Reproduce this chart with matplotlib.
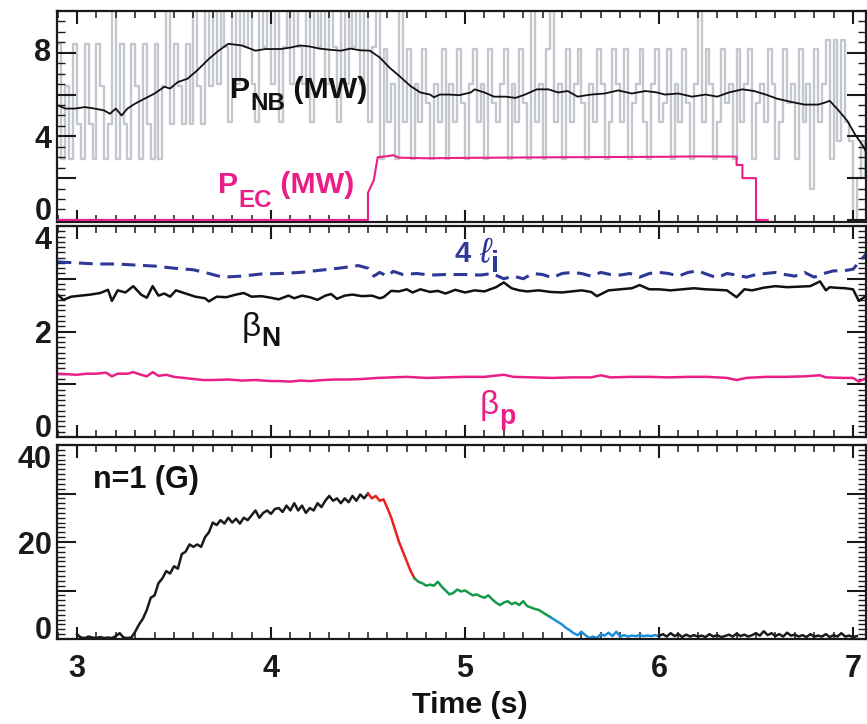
import numpy as np
import matplotlib
matplotlib.use("Agg")
import matplotlib.pyplot as plt
from matplotlib import font_manager
from matplotlib.ticker import MultipleLocator, FuncFormatter

# ---------------- data ----------------
# Raw neutral-beam power (MW), sampled every 0.02 s from 2.90 s to 7.06 s
pnb_raw = [
    # 2.90-3.44
    8.4, 2.9, 6.4, 2.9, 8.4, 4.6, 2.9, 8.4, 4.6, 2.9, 8.4, 6.4, 2.9, 4.6, 10.5, 2.9, 8.4, 4.6, 2.9, 8.4,
    6.4, 2.9, 8.4, 4.6, 2.9, 8.4, 2.9, 6.4,
    # 3.46-3.68
    10.5, 4.6, 8.4, 6.4, 4.6, 8.4, 4.6, 10.5, 6.4, 4.6, 10.5, 6.4,
    # 3.70-4.54
    10.5, 6.5, 10.5, 8.3, 4.7, 10.5, 6.5, 10.5, 8.3, 10.5,
    6.5, 4.7, 10.5, 8.3, 10.5, 6.5, 10.5, 4.7, 8.3, 10.5,
    6.5, 10.5, 8.3, 6.5, 10.5, 4.7, 10.5, 8.3, 10.5, 6.5,
    10.5, 8.3, 4.7, 10.5, 6.5, 10.5, 8.3, 10.5, 6.5, 10.5,
    4.7, 8.3, 10.5,
    # 4.56-6.84
    2.9, 8.2, 4.7, 6.5, 2.9, 10.5, 4.7, 8.2, 2.9, 6.5,
    4.7, 8.2, 5.6, 2.9, 6.5, 4.7, 8.2, 2.9, 6.5, 4.7,
    8.2, 5.6, 2.9, 6.5, 8.2, 4.7, 6.5, 2.9, 8.2, 5.6,
    4.7, 6.5, 8.2, 2.9, 6.5, 4.7, 8.2, 5.6, 2.9, 10.5,
    4.7, 6.5, 2.9, 8.2, 10.5, 4.7, 6.5, 2.9, 8.2, 4.7,
    6.5, 8.2, 5.6, 2.9, 6.5, 4.7, 8.2, 6.5, 2.9, 4.7,
    8.2, 6.5, 4.7, 8.2, 2.9, 5.6, 6.5, 8.2, 4.7, 2.9,
    6.5, 8.2, 4.7, 5.6, 8.2, 2.9, 6.5, 4.7, 8.2, 5.6,
    2.9, 6.5, 10.5, 4.7, 8.2, 6.5, 2.9, 4.7, 8.2, 5.6,
    6.5, 2.9, 8.2, 4.7, 6.5, 8.2, 2.9, 5.6, 6.5, 4.7,
    8.2, 6.5, 2.9, 4.7, 8.2, 5.6, 6.5, 2.9, 8.2, 4.7,
    6.5, 1.5, 8.2, 4.7, 6.5,
    # 6.86-7.06
    8.6, 2.9, 8.6, 3.8, 8.6, 4.7, 3.8, 0.0, 2.0, 3.8, 2.0,
]
pnb_raw_span = [2.90, 7.06]

# Smoothed neutral-beam power (MW)
pnb_t = [2.90, 2.94, 2.99, 3.04, 3.09, 3.14, 3.17, 3.20, 3.23, 3.26, 3.30, 3.35, 3.40, 3.45, 3.48, 3.52,
         3.57, 3.62, 3.68, 3.73, 3.78, 3.85, 3.92, 3.97, 4.05, 4.10, 4.15, 4.20, 4.25, 4.30, 4.36, 4.41,
         4.46, 4.51, 4.56, 4.61, 4.66, 4.72, 4.77, 4.82, 4.84, 4.87, 4.92, 4.97, 5.03, 5.05, 5.10, 5.15,
         5.21, 5.26, 5.31, 5.37, 5.43, 5.48, 5.53, 5.58, 5.65, 5.72, 5.79, 5.86, 5.93, 5.99, 6.03, 6.10,
         6.17, 6.24, 6.30, 6.36, 6.43, 6.49, 6.55, 6.61, 6.68, 6.75, 6.82, 6.85, 6.88, 6.92, 6.97, 7.01,
         7.05, 7.07]
pnb_v = [5.49, 5.33, 5.33, 5.40, 5.33, 5.24, 5.08, 5.33, 5.00, 5.33, 5.57, 5.81, 6.05, 6.37, 6.29, 6.60,
         6.76, 7.16, 7.71, 8.10, 8.43, 8.35, 8.10, 8.18, 8.18, 8.25, 8.35, 8.30, 8.20, 8.15, 8.10, 8.20,
         8.12, 8.10, 7.78, 7.30, 6.90, 6.40, 6.10, 6.00, 5.87, 6.00, 6.00, 5.97, 6.10, 6.25, 6.10, 5.90,
         5.90, 5.84, 6.00, 6.25, 6.25, 6.10, 6.17, 5.90, 6.00, 6.05, 6.20, 6.05, 6.17, 6.10, 6.00, 6.05,
         5.90, 6.00, 5.90, 6.10, 6.25, 6.17, 6.00, 5.80, 5.65, 5.52, 5.52, 5.60, 5.70, 5.30, 4.75, 4.10,
         3.57, 3.20]

# ECH power (MW)
pec_t = [2.90, 4.50, 4.50, 4.53, 4.55, 4.60, 4.63, 4.66, 4.80, 5.00, 5.50, 6.00, 6.20, 6.40, 6.40,
         6.43, 6.43, 6.50, 6.50, 6.56]
pec_v = [0.0, 0.0, 1.3, 1.9, 3.0, 3.05, 3.10, 2.98, 2.95, 2.97, 3.0, 3.02, 3.04, 3.03, 2.63,
         2.63, 2.0, 2.0, 0.0, 0.0]

# 4 * internal inductance
li4_t = [2.90, 3.00, 3.10, 3.20, 3.30, 3.40, 3.50, 3.60, 3.68, 3.75, 3.85, 3.95, 4.05, 4.15, 4.25, 4.35,
         4.45, 4.50, 4.53, 4.56, 4.60, 4.63, 4.68, 4.75, 4.82, 4.90, 5.00, 5.08, 5.14, 5.20, 5.25, 5.30,
         5.35, 5.40, 5.45, 5.50, 5.55, 5.60, 5.65, 5.70, 5.75, 5.80, 5.85, 5.90, 5.95, 6.00, 6.05, 6.10,
         6.15, 6.20, 6.25, 6.30, 6.35, 6.40, 6.45, 6.50, 6.55, 6.60, 6.65, 6.70, 6.75, 6.80, 6.85, 6.90,
         6.95, 7.00, 7.07]
li4_v = [3.32, 3.30, 3.28, 3.28, 3.26, 3.24, 3.20, 3.17, 3.10, 3.03, 3.05, 3.09, 3.10, 3.12, 3.16, 3.20,
         3.25, 3.20, 3.05, 3.12, 3.05, 3.14, 3.08, 3.10, 3.07, 3.08, 3.08, 3.07, 3.10, 3.00, 3.05, 3.00,
         3.10, 3.08, 3.02, 3.10, 3.12, 3.10, 3.05, 3.12, 3.08, 3.07, 3.10, 3.03, 3.10, 3.12, 3.10, 3.05,
         3.12, 3.15, 3.08, 3.02, 3.10, 3.07, 3.03, 3.08, 3.10, 3.12, 3.08, 3.05, 3.12, 3.03, 3.10, 3.15,
         3.15, 3.18, 3.48]

# beta_N
bn_t = [2.90, 2.93, 2.97, 3.02, 3.07, 3.12, 3.16, 3.18, 3.21, 3.25, 3.29, 3.33, 3.36, 3.39, 3.42, 3.45,
        3.48, 3.51, 3.56, 3.61, 3.66, 3.68, 3.72, 3.77, 3.82, 3.86, 3.90, 3.95, 4.00, 4.04, 4.09, 4.12,
        4.16, 4.20, 4.24, 4.28, 4.31, 4.34, 4.38, 4.42, 4.47, 4.52, 4.56, 4.58, 4.62, 4.66, 4.70, 4.73,
        4.77, 4.82, 4.86, 4.90, 4.95, 5.00, 5.05, 5.10, 5.16, 5.20, 5.24, 5.28, 5.32, 5.38, 5.44, 5.50,
        5.55, 5.60, 5.65, 5.68, 5.74, 5.80, 5.86, 5.90, 5.95, 6.00, 6.06, 6.12, 6.18, 6.24, 6.30, 6.35,
        6.40, 6.44, 6.48, 6.54, 6.60, 6.66, 6.72, 6.78, 6.83, 6.86, 6.88, 6.91, 6.96, 7.00, 7.03, 7.07]
bn_v = [2.70, 2.60, 2.66, 2.68, 2.70, 2.73, 2.79, 2.58, 2.78, 2.74, 2.86, 2.70, 2.64, 2.86, 2.68, 2.72,
        2.66, 2.78, 2.72, 2.66, 2.63, 2.57, 2.66, 2.65, 2.70, 2.73, 2.66, 2.67, 2.64, 2.61, 2.68, 2.63,
        2.68, 2.65, 2.60, 2.68, 2.71, 2.62, 2.68, 2.70, 2.67, 2.68, 2.63, 2.65, 2.77, 2.76, 2.80, 2.74,
        2.80, 2.75, 2.77, 2.72, 2.79, 2.74, 2.78, 2.76, 2.84, 2.93, 2.82, 2.78, 2.76, 2.78, 2.75, 2.74,
        2.76, 2.78, 2.75, 2.67, 2.78, 2.80, 2.82, 2.88, 2.80, 2.80, 2.78, 2.80, 2.82, 2.80, 2.79, 2.78,
        2.65, 2.80, 2.78, 2.83, 2.86, 2.84, 2.85, 2.86, 2.95, 2.78, 2.84, 2.83, 2.82, 2.80, 2.58, 2.68]

# beta_p
bp_t = [2.90, 3.00, 3.05, 3.10, 3.15, 3.18, 3.21, 3.26, 3.29, 3.33, 3.36, 3.39, 3.42, 3.46, 3.50, 3.55,
        3.60, 3.65, 3.70, 3.78, 3.85, 3.92, 4.00, 4.05, 4.10, 4.15, 4.20, 4.27, 4.33, 4.40, 4.47, 4.55,
        4.62, 4.70, 4.80, 4.90, 5.00, 5.10, 5.20, 5.25, 5.35, 5.45, 5.55, 5.65, 5.70, 5.75, 5.85, 5.95,
        6.05, 6.15, 6.25, 6.35, 6.40, 6.45, 6.55, 6.65, 6.75, 6.83, 6.86, 6.95, 7.00, 7.03, 7.07]
bp_v = [1.20, 1.18, 1.20, 1.20, 1.22, 1.15, 1.20, 1.20, 1.23, 1.18, 1.15, 1.23, 1.16, 1.18, 1.14, 1.12,
        1.10, 1.08, 1.08, 1.09, 1.07, 1.08, 1.06, 1.06, 1.05, 1.07, 1.06, 1.08, 1.09, 1.09, 1.10, 1.12,
        1.13, 1.14, 1.12, 1.13, 1.14, 1.14, 1.18, 1.14, 1.13, 1.12, 1.13, 1.13, 1.17, 1.13, 1.14, 1.14,
        1.13, 1.14, 1.14, 1.12, 1.08, 1.12, 1.14, 1.14, 1.15, 1.17, 1.13, 1.12, 1.12, 1.05, 1.12]

# n=1 amplitude (G), sampled every 0.02 s; segments coloured by phase
n1_bounds = [3.00, 4.50, 4.74, 5.44, 6.00, 7.02]
n1_black_a = [1.0, 0.3, 0.2, 0.5, 0.3, 0.2, 0.4, 0.2, 0.3, 0.2, 0.6, 1.2, 0.3, 0.2, 0.3, 1.5, 3.0, 4.2,
              6.0, 8.5, 9.0, 11.5, 12.5, 14.0, 13.5, 15.0, 14.5, 17.5, 18.0, 19.5, 19.0, 19.5, 19.0,
              21.0, 22.0, 24.0, 23.5, 24.5, 23.8, 25.0, 24.0, 24.8, 23.8, 25.0, 24.5, 25.5, 26.5, 25.0,
              26.0, 26.5, 25.8, 26.8, 27.0, 26.2, 27.5, 26.5, 28.0, 26.5, 27.5, 26.0, 27.0, 26.5, 28.0,
              27.2, 28.5, 29.5, 28.5, 29.0, 28.0, 29.0, 28.2, 29.5, 28.5, 29.8, 29.0, 30.0]
n1_red = [30.0, 29.0, 29.5, 28.5, 28.8, 27.0, 25.0, 22.5, 20.0, 18.0, 16.0, 14.0, 12.5]
n1_green = [12.5, 11.8, 11.5, 11.0, 11.2, 11.0, 11.8, 10.8, 10.0, 9.2, 9.5, 10.2, 9.8, 10.0, 9.5, 9.0,
            9.2, 8.8, 8.5, 9.0, 8.2, 7.5, 7.0, 7.5, 7.8, 7.2, 7.5, 7.0, 7.8, 6.8, 6.5, 6.2, 6.0, 5.5,
            5.0, 4.5]
n1_blue = [4.5, 4.0, 3.5, 3.0, 2.3, 1.8, 1.2, 0.8, 1.5, 0.8, 0.2, 0.5, 0.2, 1.0, 0.7, 1.3, 0.6, 1.5,
           0.5, 0.8, 0.5, 0.7, 0.6, 0.8, 0.6, 0.7, 0.6, 0.8, 0.6]
n1_black_b = [0.6, 1.0, 0.5, 1.2, 0.6, 1.0, 0.4, 0.9, 0.5, 0.8, 0.5, 0.7, 0.4, 1.0, 0.5, 0.8, 0.4, 0.6,
              0.9, 0.5, 1.1, 0.6, 0.9, 0.5, 0.8, 1.2, 0.7, 1.6, 0.8, 1.2, 0.6, 1.0, 0.5, 1.3, 0.7, 0.9,
              0.5, 0.8, 0.4, 1.0, 0.5, 0.7, 0.5, 1.0, 0.4, 0.8, 0.5, 1.2, 0.5, 0.7, 0.4, 0.6]
n1_segments = [n1_black_a, n1_red, n1_green, n1_blue, n1_black_b]
n1_colors = ["#1a1a1a", "#e8231d", "#15994a", "#1b8fd6", "#1a1a1a"]

xticks = [3, 4, 5, 6, 7]
ylabels1 = [0, 4, 8]
ylabels2 = [0, 2, 4]
ylabels3 = [0, 20, 40]

# ---------------- style ----------------
names = {f.name for f in font_manager.fontManager.ttflist}
HAS_NARROW = "Liberation Sans Narrow" in names
NARROW = "Liberation Sans Narrow" if HAS_NARROW else "Liberation Sans"
NS = 1.0 if HAS_NARROW else 0.87   # shrink to keep condensed-font widths
WIDE = "Liberation Sans"
plt.rcParams["font.family"] = [WIDE, "DejaVu Sans"]
plt.rcParams["font.weight"] = "bold"

W, H = 867, 724
fig = plt.figure(figsize=(W / 100, H / 100), dpi=100)


def add_axes(top, bottom, left=57, right=866):
    return fig.add_axes([left / W, 1 - bottom / H, (right - left) / W, (bottom - top) / H])


ax1 = add_axes(11, 222)
ax2 = add_axes(226, 437)
ax3 = add_axes(445, 639)

MAG = "#ea1e86"
GRAY = "#c4c8ce"
BLUE = "#2e3896"

# panel 1
t_raw = np.linspace(pnb_raw_span[0], pnb_raw_span[1], len(pnb_raw))
ax1.plot(t_raw, pnb_raw, drawstyle="steps-post", color=GRAY, lw=1.7, zorder=1)
ax1.plot(pnb_t, pnb_v, color="#111111", lw=1.3, zorder=3)
ax1.plot(pec_t, pec_v, color=MAG, lw=1.5, zorder=4)
ax1.set_ylim(-0.1, 10.0)
ax1.yaxis.set_major_locator(MultipleLocator(2))
ax1.yaxis.set_minor_locator(MultipleLocator(0.5))

# panel 2
ax2.plot(li4_t, li4_v, color=BLUE, lw=2.2, dashes=(4.5, 2.5))
ax2.plot(bn_t, bn_v, color="#111111", lw=1.8)
ax2.plot(bp_t, bp_v, color=MAG, lw=1.8)
ax2.set_ylim(0, 4.0)
ax2.yaxis.set_major_locator(MultipleLocator(1))
ax2.yaxis.set_minor_locator(MultipleLocator(0.1))

# panel 3
for seg, c, t0, t1 in zip(n1_segments, n1_colors, n1_bounds[:-1], n1_bounds[1:]):
    ax3.plot(np.linspace(t0, t1, len(seg)), seg, color=c, lw=1.8)
ax3.set_ylim(0, 40)
ax3.yaxis.set_major_locator(MultipleLocator(10))
ax3.yaxis.set_minor_locator(MultipleLocator(1))

for ax, labs in ((ax1, ylabels1), (ax2, ylabels2), (ax3, ylabels3)):
    ax.set_xlim(2.897, 7.067)
    ax.xaxis.set_major_locator(MultipleLocator(1))
    ax.xaxis.set_minor_locator(MultipleLocator(0.1))
    ax.yaxis.set_major_formatter(FuncFormatter(lambda v, p, labs=labs: f"{v:g}" if round(v, 3) in labs else ""))
    ax.tick_params(which="both", direction="in", top=True, right=True, colors="#1a1a1a")
    ax.tick_params(axis="x", which="major", length=9, width=1.5, labelsize=22, pad=11)
    ax.tick_params(axis="x", which="minor", length=5, width=1.1)
    ax.tick_params(axis="y", which="major", length=14, width=1.5, labelsize=22, pad=4)
    ax.tick_params(axis="y", which="minor", length=6, width=1.0)
    for s in ax.spines.values():
        s.set_linewidth(1.6)
        s.set_color("#1a1a1a")
    if ax is not ax3:
        ax.tick_params(axis="x", labelbottom=False)

ax3.set_xticks(xticks)

fig.canvas.draw()
for ax, top_lab, top_va in ((ax1, "8", "center"), (ax2, "4", "top"), (ax3, "40", "top")):
    for tick in ax.yaxis.get_major_ticks():
        txt = tick.label1.get_text()
        if txt == "0":
            tick.label1.set_verticalalignment("baseline")
        elif txt == top_lab:
            tick.label1.set_verticalalignment(top_va)

renderer = fig.canvas.get_renderer()


def rich(x, y, parts):
    """parts: (text, size, weight, style, family, color, dy) placed left to right from pixel (x, y baseline)."""
    cur = x
    for s, size, weight, style, family, color, dy in parts:
        t = fig.text(cur / W, 1 - (y + dy) / H, s, fontsize=size, fontweight=weight, fontstyle=style,
                     family=[family, "DejaVu Sans"], color=color, ha="left", va="baseline")
        cur += t.get_window_extent(renderer).width


rich(230, 98, [("P", 25 * NS, "bold", "normal", NARROW, "#111111", 0),
               ("NB", 20 * NS, "bold", "normal", NARROW, "#111111", 12),
               (" (MW)", 25 * NS, "bold", "normal", NARROW, "#111111", 0)])
rich(218, 193, [("P", 25 * NS, "bold", "normal", NARROW, MAG, 0),
                ("EC", 20 * NS, "bold", "normal", NARROW, MAG, 14),
                (" (MW)", 25 * NS, "bold", "normal", NARROW, MAG, 0)])
rich(455, 262, [("4 ", 21, "bold", "normal", WIDE, BLUE, 0),
                ("ℓ", 25, "normal", "italic", WIDE, BLUE, 0),
                ("i", 21, "bold", "normal", WIDE, BLUE, 10)])
rich(242, 336, [("β", 24, "normal", "normal", WIDE, "#111111", 0),
                ("N", 22 * NS, "bold", "normal", NARROW, "#111111", 10)])
rich(480, 414, [("β", 24, "normal", "normal", WIDE, MAG, 0),
                ("p", 22 * NS, "bold", "normal", NARROW, MAG, 10)])
rich(93, 488, [("n=1 (G)", 22, "bold", "normal", WIDE, "#111111", 0)])

fig.text(470 / W, 1 - 705 / H, "Time (s)", fontsize=25 * NS, fontweight="bold", family=[NARROW, "DejaVu Sans"],
         color="#111111", ha="center", va="center")

fig.savefig("out.png", dpi=100)
